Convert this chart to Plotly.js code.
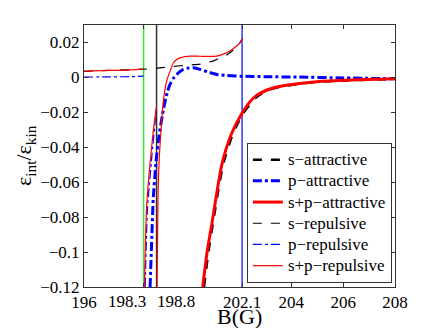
<!DOCTYPE html>
<html>
<head>
<meta charset="utf-8">
<script src="https://cdn.plot.ly/plotly-3.0.1.min.js"></script>
<style>
  body { margin: 0; background: #fff; }
  #plot { width: 436px; height: 328px; }
</style>
</head>
<body>
<div id="plot"></div>
<script>
// resonance positions (G)
const resonances = [198.3, 198.8, 202.1];
const resonanceColors = ['#33e633', '#333333', '#3333ff'];

// s-attractive (thick dashed black)
const bSAtt = [200.63, 200.8, 200.97, 201.22, 201.4, 201.75, 202.12, 202.45, 202.7, 203.2, 203.69, 204.98, 206.26, 208];
const sAtt = [-0.12, -0.1, -0.084, -0.061, -0.048, -0.032, -0.021, -0.0145, -0.0108, -0.0068, -0.005, -0.0026, -0.0017, -0.001];

// p-attractive (thick dash-dot blue)
const bPAtt = [198.55, 198.62, 198.67, 198.78, 198.9, 199.02, 199.13, 199.22, 199.32, 199.45, 199.58, 199.7, 199.83, 200.0, 200.22, 200.48, 200.8, 201.12, 201.5, 202.02, 203, 204.2, 206, 208];
const pAtt = [-0.12, -0.09, -0.07, -0.048, -0.033, -0.022, -0.0136, -0.008, -0.004, -0.0005, 0.0017, 0.0033, 0.0046, 0.0053, 0.0055, 0.0046, 0.003, 0.0017, 0.0011, 0.0007, 0.0004, 0.0002, -0.0003, -0.0008];

// s+p-attractive (thick solid red)
const bSPAtt = [200.58, 200.75, 200.93, 201.18, 201.35, 201.7, 202.08, 202.4, 202.66, 203.2, 203.69, 204.98, 206.26, 208];
const spAtt = [-0.12, -0.1, -0.084, -0.061, -0.048, -0.032, -0.021, -0.014, -0.0103, -0.0065, -0.0048, -0.0025, -0.0015, -0.0008];

// s-repulsive (thin dashed black)
const bSRep = [196, 197, 198.16, 198.8, 199.45, 200, 200.48, 201, 201.25, 201.5, 201.75, 201.9, 202, 202.1];
const sRep = [0.0035, 0.004, 0.0046, 0.0052, 0.0063, 0.007, 0.0076, 0.0095, 0.0112, 0.0128, 0.0155, 0.0175, 0.0195, 0.022];

// p-repulsive (thin dash-dot blue), branches split by null
const bPRep = [196, 197, 198, 198.3, null, 198.36, 198.45, 198.62, 198.79];
const pRep = [0.0002, 0.0003, 0.0005, 0.0007, null, -0.12, -0.075, -0.045, -0.018];

// s+p-repulsive (thin solid red), branches split by null
const bSPRep = [196, 197, 198, 198.3, null,
  198.33, 198.37, 198.42, 198.5, 198.59, 198.67, 198.74, 198.79, null,
  198.82, 198.84, 198.86, 198.9, 198.97, 199.06, 199.19, 199.32, 199.45, 199.58, 199.7, 199.9, 200.09, 200.5, 201.12, 201.4, 201.63, 201.85, 202.02, 202.1];
const spRep = [0.0036, 0.004, 0.0045, 0.0049, null,
  -0.12, -0.095, -0.073, -0.057, -0.043, -0.031, -0.023, -0.017, null,
  -0.12, -0.09, -0.065, -0.047, -0.031, -0.0136, -0.0021, 0.0036, 0.0084, 0.0102, 0.0112, 0.0119, 0.0122, 0.0121, 0.0122, 0.0135, 0.0151, 0.0175, 0.0198, 0.0221];

const xTicks = [196, 198.3, 198.8, 202.1, 204, 206, 208];
const yTicks = [-0.12, -0.1, -0.08, -0.06, -0.04, -0.02, 0, 0.02];
const yTickText = ['\u22120.12', '\u22120.1', '\u22120.08', '\u22120.06', '\u22120.04', '\u22120.02', '0', '0.02'];

const serif = 'Liberation Serif';

const traces = resonances.map((b, i) => ({
    x: [b, b],
    y: [-0.12, 0.03],
    mode: 'lines',
    line: { color: resonanceColors[i], width: 1.5 },
    showlegend: false,
    hoverinfo: 'skip',
}));

// legend rows are spaced by the legend font size, the glyphs are drawn a bit larger
const label = s => '<span style="font-size:17px">' + s + '</span>';

const curve = (x, y, name, color, width, dash) => ({
    x, y,
    name: label(name),
    mode: 'lines',
    connectgaps: false,
    line: { color, width, dash, shape: 'spline', smoothing: 0.6 },
});

traces.push(
    curve(bSAtt, sAtt, 's\u2212attractive', '#000000', 2.5, 'dash'),
    curve(bPAtt, pAtt, 'p\u2212attractive', '#0000ff', 3, 'dashdot'),
    curve(bSPAtt, spAtt, 's+p\u2212attractive', '#ff0000', 3, 'solid'),
    curve(bSRep, sRep, 's\u2212repulsive', '#000000', 1.2, 'dash'),
    curve(bPRep, pRep, 'p\u2212repulsive', '#0000ff', 1.2, 'dashdot'),
    curve(bSPRep, spRep, 's+p\u2212repulsive', '#ff0000', 1.2, 'solid'),
);

const axisCommon = {
    showgrid: false,
    zeroline: false,
    showline: true,
    linecolor: '#333',
    linewidth: 1,
    mirror: 'ticks',
    ticks: 'inside',
    ticklen: 4,
    tickcolor: '#333',
    tickfont: { family: serif, size: 17, color: '#000' },
};

const textFont = size => ({ family: serif, size, color: '#000' });

const layout = {
    width: 436,
    height: 328,
    margin: { l: 84, r: 41, t: 25, b: 41 },
    paper_bgcolor: '#fff',
    plot_bgcolor: '#fff',
    font: { family: serif, color: '#000' },
    xaxis: Object.assign({}, axisCommon, {
        range: [196, 208],
        tickmode: 'array',
        tickvals: xTicks,
        ticktext: xTicks.map(v => (v === 198.3 || v === 198.8) ? '' : String(v)),
    }),
    yaxis: Object.assign({}, axisCommon, {
        range: [-0.12, 0.03],
        tickmode: 'array',
        tickvals: yTicks,
        ticktext: yTickText,
    }),
    annotations: [
        // the two close ticks get their labels pushed apart, as in the original
        { x: 198.3, xref: 'x', y: 0, yref: 'paper', yanchor: 'top', xanchor: 'right', xshift: 4, yshift: -3,
          text: '198.3', showarrow: false, font: textFont(17) },
        { x: 198.8, xref: 'x', y: 0, yref: 'paper', yanchor: 'top', xanchor: 'left', xshift: -2, yshift: -3,
          text: '198.8', showarrow: false, font: textFont(17) },
        // axis titles
        { x: 0.5, xref: 'paper', y: 0, yref: 'paper', yanchor: 'middle', xanchor: 'center', yshift: -29,
          text: 'B(G)', showarrow: false, font: textFont(22) },
        { x: 0, xref: 'paper', y: 0.5, yref: 'paper', xanchor: 'center', yanchor: 'middle', xshift: -59, textangle: -90,
          text: '\u03b5<sub>int</sub>/\u03b5<sub>kin</sub>', showarrow: false, font: textFont(22) },
    ],
    legend: {
        x: 0.99, y: 0.015, xanchor: 'right', yanchor: 'bottom',
        bgcolor: '#fff',
        bordercolor: '#333',
        borderwidth: 1,
        itemwidth: 30,
        font: { family: serif, size: 14, color: '#000' },
    },
    showlegend: true,
};

Plotly.newPlot('plot', traces, layout, { staticPlot: true });
</script>
</body>
</html>
